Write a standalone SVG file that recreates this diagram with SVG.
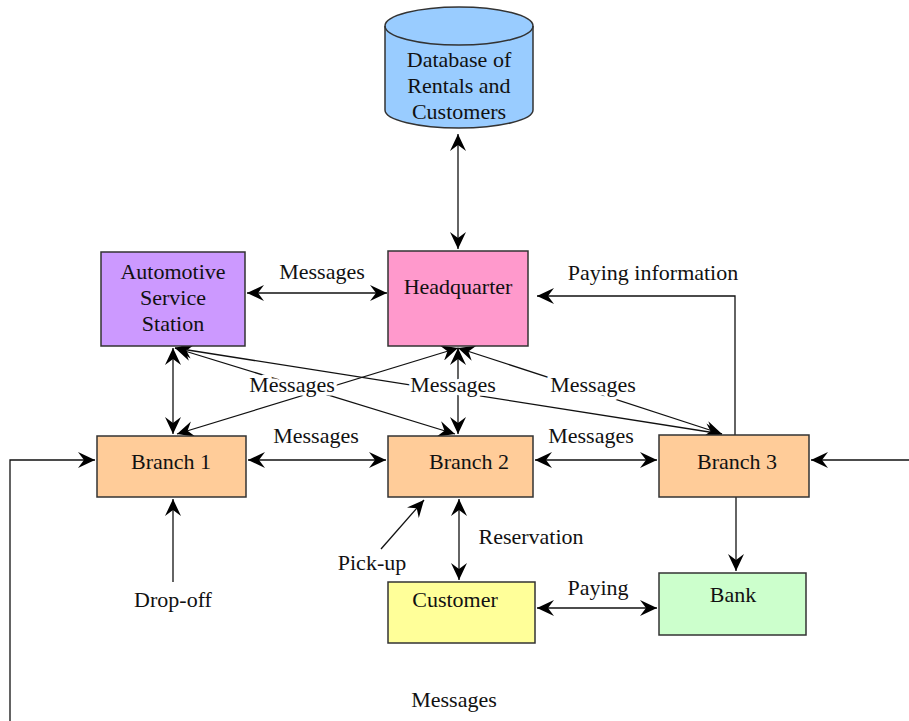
<svg xmlns="http://www.w3.org/2000/svg" width="909" height="721" viewBox="0 0 909 721">
  <style>
    text { font-family: "Liberation Serif", "Times New Roman", serif; font-size: 22px; fill: #111; text-anchor: middle; }
    .box { stroke: #333; stroke-width: 1.5; }
    .edge { fill: none; stroke: #111; stroke-width: 1.3; }
    .lbl { paint-order: stroke; stroke: #fff; stroke-width: 7px; stroke-linejoin: round; }
  </style>
  <defs>
    <marker id="head" viewBox="0 0 17 16" refX="17" refY="8" markerWidth="17" markerHeight="16" markerUnits="userSpaceOnUse" orient="auto-start-reverse">
      <path d="M0,0 L17,8 L0,16 L6,8 z" fill="#000"/>
    </marker>
  </defs>
  <rect width="909" height="721" fill="#fff"/>

  <!-- connectors -->
  <g id="connectors">
    <line class="edge" x1="458" y1="134" x2="458" y2="249" marker-start="url(#head)" marker-end="url(#head)"/>
    <line class="edge" x1="247" y1="293" x2="387" y2="293" marker-start="url(#head)" marker-end="url(#head)"/>
    <line class="edge" x1="173" y1="348" x2="173" y2="434" marker-start="url(#head)" marker-end="url(#head)"/>
    <line class="edge" x1="175" y1="348" x2="455" y2="434" marker-start="url(#head)" marker-end="url(#head)"/>
    <line class="edge" x1="175" y1="348" x2="722" y2="434" marker-start="url(#head)" marker-end="url(#head)"/>
    <line class="edge" x1="458" y1="348" x2="177" y2="434" marker-start="url(#head)" marker-end="url(#head)"/>
    <line class="edge" x1="458" y1="348" x2="458" y2="434" marker-start="url(#head)" marker-end="url(#head)"/>
    <line class="edge" x1="458" y1="348" x2="722" y2="434" marker-start="url(#head)" marker-end="url(#head)"/>
    <line class="edge" x1="248" y1="460" x2="386" y2="460" marker-start="url(#head)" marker-end="url(#head)"/>
    <line class="edge" x1="535" y1="460" x2="657" y2="460" marker-start="url(#head)" marker-end="url(#head)"/>
    <polyline class="edge" points="735,435 735,296 537,296" marker-end="url(#head)"/>
    <line class="edge" x1="736" y1="497" x2="736" y2="571" marker-end="url(#head)"/>
    <line class="edge" x1="909" y1="460" x2="811" y2="460" marker-end="url(#head)"/>
    <polyline class="edge" points="10,721 10,460 95,460" marker-end="url(#head)"/>
    <line class="edge" x1="173" y1="582" x2="173" y2="499" marker-end="url(#head)"/>
    <line class="edge" x1="381" y1="549" x2="424" y2="500" marker-end="url(#head)"/>
    <line class="edge" x1="459" y1="499" x2="459" y2="580" marker-start="url(#head)" marker-end="url(#head)"/>
    <line class="edge" x1="537" y1="608" x2="657" y2="608" marker-start="url(#head)" marker-end="url(#head)"/>

    <text x="322" y="279">Messages</text>
    <text class="lbl" x="292" y="392">Messages</text>
    <text class="lbl" x="453" y="392">Messages</text>
    <text class="lbl" x="593" y="392">Messages</text>
    <text x="316" y="443">Messages</text>
    <text x="591" y="443">Messages</text>
    <text x="653" y="280">Paying information</text>
    <text x="173" y="607">Drop-off</text>
    <text x="372" y="570">Pick-up</text>
    <text x="531" y="544">Reservation</text>
    <text x="598" y="595">Paying</text>
    <text x="454" y="707">Messages</text>
  </g>

  <g id="database">
    <path class="box" fill="#99ccff" d="M385,26 V110 A74,18 0 0 0 533,110 V26 A74,19 0 0 0 385,26 Z"/>
    <path class="box" fill="none" d="M385,26 A74,19 0 0 0 533,26"/>
    <text x="459" y="67">Database of</text>
    <text x="459" y="93">Rentals and</text>
    <text x="459" y="119">Customers</text>
  </g>

  <g id="service-station">
    <rect class="box" fill="#cc99ff" x="101" y="252" width="144" height="94"/>
    <text x="173" y="279">Automotive</text>
    <text x="173" y="305">Service</text>
    <text x="173" y="331">Station</text>
  </g>

  <g id="headquarter">
    <rect class="box" fill="#ff99cc" x="388" y="251" width="140" height="95"/>
    <text x="458" y="294">Headquarter</text>
  </g>

  <g id="branch1">
    <rect class="box" fill="#ffcc99" x="97" y="436" width="149" height="61"/>
    <text x="171" y="469">Branch 1</text>
  </g>

  <g id="branch2">
    <rect class="box" fill="#ffcc99" x="388" y="436" width="145" height="61"/>
    <text x="469" y="469">Branch 2</text>
  </g>

  <g id="branch3">
    <rect class="box" fill="#ffcc99" x="659" y="435" width="150" height="62"/>
    <text x="737" y="469">Branch 3</text>
  </g>

  <g id="customer">
    <rect class="box" fill="#ffff99" x="388" y="582" width="147" height="61"/>
    <text x="455" y="607">Customer</text>
  </g>

  <g id="bank">
    <rect class="box" fill="#ccffcc" x="659" y="573" width="147" height="62"/>
    <text x="733" y="602">Bank</text>
  </g>
</svg>
